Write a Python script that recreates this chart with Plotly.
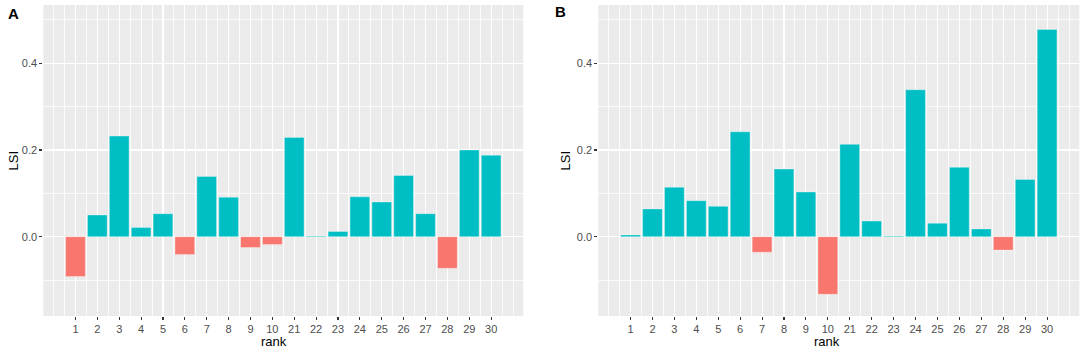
import plotly.graph_objects as go

ranks = ["1", "2", "3", "4", "5", "6", "7", "8", "9", "10",
         "21", "22", "23", "24", "25", "26", "27", "28", "29", "30"]
lsi_a = [-0.092, 0.050, 0.232, 0.021, 0.053, -0.041, 0.139, 0.091, -0.025, -0.018,
         0.229, 0.0015, 0.012, 0.092, 0.080, 0.141, 0.053, -0.073, 0.200, 0.188]
lsi_b = [0.004, 0.064, 0.114, 0.083, 0.070, 0.242, -0.036, 0.156, 0.103, -0.133,
         0.213, 0.036, 0.0015, 0.339, 0.031, 0.160, 0.018, -0.031, 0.132, 0.478]
y_ticks = [0.0, 0.2, 0.4]
y_labels = ["0.0", "0.2", "0.4"]

POS = "#00BFC4"
NEG = "#F8766D"
W, H = 1084, 352
FONT = "Liberation Sans, Arial, sans-serif"

pos_idx = list(range(1, len(ranks) + 1))

fig = go.Figure()
for vals, xa, ya in [(lsi_a, "x", "y"), (lsi_b, "x2", "y2")]:
    fig.add_trace(go.Bar(
        x=pos_idx, y=vals, width=0.9,
        marker=dict(color=[POS if v >= 0 else NEG for v in vals],
                    line=dict(color="rgba(255,255,255,0.55)", width=0.6)),
        xaxis=xa, yaxis=ya, showlegend=False, hoverinfo="skip",
    ))

def px_x(p):
    return p / W

def px_y(p):
    return 1 - p / H

xcommon = dict(
    range=[-0.47, 21.47], tickmode="array", tickvals=pos_idx, ticktext=ranks,
    showgrid=True, gridcolor="white", gridwidth=1.1,
    ticks="outside", ticklen=3, tickwidth=1.1, tickcolor="#333333",
    tickfont=dict(family=FONT, size=11, color="#4D4D4D"),
    showline=False, zeroline=False, fixedrange=True,
    minor=dict(tickmode="linear", tick0=0, dtick=0.5, showgrid=True,
               gridcolor="white", gridwidth=0.8, ticks=""),
)
ycommon = dict(
    range=[-0.183, 0.5345], tickmode="array", tickvals=y_ticks, ticktext=y_labels,
    showgrid=True, gridcolor="white", gridwidth=1.1,
    ticks="outside", ticklen=3, tickwidth=1.1, tickcolor="#333333",
    tickfont=dict(family=FONT, size=11, color="#4D4D4D"),
    showline=False, zeroline=False, fixedrange=True,
    minor=dict(tickmode="linear", tick0=0, dtick=0.1, showgrid=True,
               gridcolor="white", gridwidth=0.8, ticks=""),
)

ydom = [px_y(316), px_y(5)]
fig.update_layout(
    width=W, height=H, autosize=False,
    margin=dict(l=0, r=0, t=0, b=0),
    paper_bgcolor="white", plot_bgcolor="#EBEBEB",
    bargap=0,
    xaxis=dict(domain=[px_x(43.3), px_x(523.3)], anchor="y", **xcommon),
    yaxis=dict(domain=ydom, anchor="x", **ycommon),
    xaxis2=dict(domain=[px_x(598.3), px_x(1079.3)], anchor="y2", **xcommon),
    yaxis2=dict(domain=ydom, anchor="x2", **ycommon),
    font=dict(family=FONT),
)

anns = [
    dict(text="<b>A</b>", x=px_x(13), y=px_y(13), size=15, angle=0),
    dict(text="<b>B</b>", x=px_x(560), y=px_y(12), size=15, angle=0),
    dict(text="LSI", x=px_x(13), y=px_y(160.5), size=13, angle=-90),
    dict(text="LSI", x=px_x(565), y=px_y(160.5), size=13, angle=-90),
    dict(text="rank", x=px_x(274), y=px_y(341), size=13, angle=0),
    dict(text="rank", x=px_x(827), y=px_y(341), size=13, angle=0),
]
for a in anns:
    fig.add_annotation(
        text=a["text"], x=a["x"], y=a["y"], xref="paper", yref="paper",
        xanchor="center", yanchor="middle", showarrow=False, textangle=a["angle"],
        font=dict(family=FONT, size=a["size"], color="black"),
    )

fig.write_html(
    "out.html",
    config={"displayModeBar": False, "staticPlot": True},
    post_script="document.body.style.margin='0';document.body.style.overflow='hidden';",
)
